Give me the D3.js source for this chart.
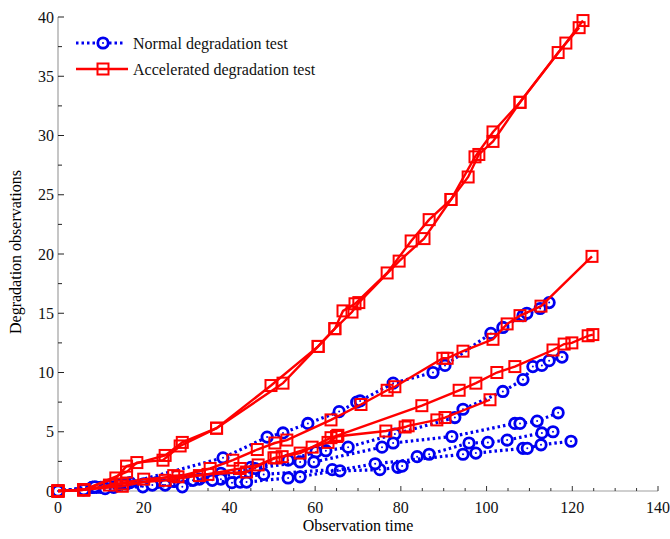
<!DOCTYPE html>
<html>
<head>
<meta charset="utf-8">
<script src="https://cdn.jsdelivr.net/npm/d3@7"></script>
<style>
  body { margin: 0; background: #fff; }
  text { font-family: "Liberation Serif", "Times New Roman", serif; }
</style>
</head>
<body>
<div id="chart"></div>
<script>
// Normal degradation test (blue, dotted, circles)
var normal1 = [[0,0],[8,0.3],[12,0.4],[16.8,0.7],[38.5,2.8],[48.8,4.55],[52.5,4.9],[58.3,5.7],[65.6,6.7],[69.7,7.5],[70.5,7.6],[78.2,9.1],[87.5,10.0],[90.3,10.6],[101,13.3],[103.8,13.8],[108.5,14.8],[109.4,15.0],[112.5,15.4],[114.6,15.9]];
var normal2 = [[0,0],[8,0.3],[14,0.5],[20,0.6],[27,0.8],[33,1.0],[38,1.5],[45,2.0],[53.7,2.6],[60.2,3.3],[62.5,3.4],[67.7,3.7],[78.6,4.8],[92.6,6.2],[94.5,6.9],[103.8,8.4],[108.5,9.4],[110.8,10.5],[112.9,10.6],[114.6,11.0],[117.6,11.3]];
var normal3 = [[0,0],[6,0.1],[10,0.3],[16,0.6],[23,0.7],[29,0.9],[37,1.1],[46,1.9],[56.5,2.45],[59.7,2.45],[75.6,3.7],[78.2,4.05],[91.9,4.6],[106.6,5.7],[107.8,5.7],[111.8,5.9],[116.7,6.6]];
var normal4 = [[0,0],[9,0.3],[13,0.3],[19.8,0.35],[25,0.5],[31.5,0.9],[38,1.0],[48,1.4],[64,1.8],[65.8,1.7],[75.1,1.8],[79.3,2.0],[80.3,2.1],[83.8,2.9],[86.6,3.1],[95.9,4.05],[100.3,4.1],[104.8,4.3],[112.9,4.9],[115.5,5.0]];
var normal5 = [[0,0],[8.6,0.35],[11,0.2],[22,0.5],[29,0.35],[36,0.9],[40.6,0.7],[42.5,0.75],[44,0.75],[53.7,1.1],[56.5,1.2],[74,2.3],[94.5,3.1],[97.5,3.2],[108.5,3.6],[109.5,3.6],[112.7,3.9],[119.7,4.2]];

// Accelerated degradation test (red, solid, squares)
var accel1 = [[0,0],[6,0.1],[13.5,1.1],[16,2.1],[25,3.0],[29,4.1],[37,5.3],[49.7,8.9],[60.7,12.2],[64.6,13.7],[66.5,15.2],[69.3,15.8],[76.8,18.4],[82.4,21.1],[86.6,22.9],[91.7,24.6],[97.3,28.2],[101.5,30.3],[107.8,32.8],[118.5,37.8],[122.5,39.7]];
var accel2 = [[0,0],[6,0.1],[16,1.6],[18.4,2.4],[24.5,2.6],[28.5,3.8],[37,5.3],[52.5,9.1],[60.7,12.2],[64.6,13.7],[68.6,15.1],[70.2,15.9],[79.6,19.4],[85.4,21.3],[91.7,24.6],[95.7,26.5],[98.2,28.4],[101.5,29.5],[107.8,32.8],[116.7,37.0],[121.6,39.1]];
var accel3 = [[0,0],[6,0.1],[12,0.5],[20,1.0],[28,1.2],[35.5,1.9],[40.8,2.6],[46.5,3.5],[50.6,4.05],[53.4,4.3],[63.7,6.0],[70.7,7.3],[76.8,8.5],[78.6,8.8],[89.8,11.2],[90.8,11.2],[94.5,11.8],[101.5,12.8],[104.8,14.1],[107.8,14.8],[112.7,15.6],[124.6,19.8]];
var accel4 = [[0,0],[6,0.1],[15,0.6],[25,0.9],[33,1.3],[42.5,1.9],[46.7,2.2],[50.9,2.8],[56.5,3.2],[59.3,3.7],[63.7,4.5],[65.3,4.7],[84.9,7.2],[93.6,8.5],[97.5,9.1],[102.4,10.0],[106.6,10.5],[115.5,11.9],[118.1,12.4],[119.9,12.5],[123.7,13.1],[124.8,13.2]];
var accel5 = [[0,0],[6,0.1],[15,0.4],[27,1.3],[35,1.4],[44,1.6],[50.4,2.8],[52.3,2.9],[63,4.1],[65,4.6],[76.5,5.06],[81,5.4],[81.7,5.5],[88.4,6.0],[90.3,6.2],[100.8,7.7]];

var normalSeries = [normal1, normal2, normal3, normal4, normal5];
var accelSeries = [accel1, accel2, accel3, accel4, accel5];
var legendLabels = ['Normal degradation test', 'Accelerated degradation test'];

var chart_width = 670;
var chart_height = 539;
var svg = d3.select('#chart')
    .append('svg')
    .attr('width', chart_width)
    .attr('height', chart_height);

var x_scale = d3.scaleLinear().domain([0, 140]).range([58, 658]);
var y_scale = d3.scaleLinear().domain([0, 40]).range([491, 17]);

var blue = '#0000f0';
var red = '#ff0000';

// Axes
var xAxis = svg.append('g').attr('transform', 'translate(0,491)');
xAxis.append('line')
    .attr('x1', 58).attr('x2', 658)
    .attr('stroke', '#a0a0a0').attr('stroke-width', 1.2);
xAxis.selectAll('.minor')
    .data(d3.range(5, 141, 5))
    .enter().append('line')
    .attr('x1', function (d) { return x_scale(d); })
    .attr('x2', function (d) { return x_scale(d); })
    .attr('y1', 0)
    .attr('y2', function (d) { return d % 20 === 0 ? -5 : -3; })
    .attr('stroke', '#333').attr('stroke-width', 1);
xAxis.selectAll('.lab')
    .data(d3.range(0, 141, 20))
    .enter().append('text')
    .attr('x', function (d) { return x_scale(d); })
    .attr('y', 22)
    .attr('text-anchor', 'middle')
    .attr('font-size', 16)
    .attr('fill', '#111')
    .text(function (d) { return d; });

var yAxis = svg.append('g');
yAxis.append('line')
    .attr('x1', 58).attr('x2', 58)
    .attr('y1', y_scale(0)).attr('y2', y_scale(40))
    .attr('stroke', '#a0a0a0').attr('stroke-width', 1.2);
yAxis.selectAll('.tick')
    .data(d3.range(0, 40.1, 2.5))
    .enter().append('line')
    .attr('x1', 58)
    .attr('x2', function (d) { return d % 5 === 0 ? 64 : 62; })
    .attr('y1', function (d) { return y_scale(d); })
    .attr('y2', function (d) { return y_scale(d); })
    .attr('stroke', '#222').attr('stroke-width', 1);
yAxis.selectAll('.lab')
    .data(d3.range(0, 41, 5))
    .enter().append('text')
    .attr('x', 54)
    .attr('y', function (d) { return y_scale(d) + 5.5; })
    .attr('text-anchor', 'end')
    .attr('font-size', 16)
    .attr('fill', '#111')
    .text(function (d) { return d; });

svg.append('text')
    .attr('x', 358).attr('y', 531)
    .attr('text-anchor', 'middle')
    .attr('font-size', 16)
    .text('Observation time');
svg.append('text')
    .attr('transform', 'translate(21,252) rotate(-90)')
    .attr('text-anchor', 'middle')
    .attr('font-size', 16)
    .text('Degradation observations');

var line = d3.line()
    .x(function (d) { return x_scale(d[0]); })
    .y(function (d) { return y_scale(d[1]); });

function drawCircle(g, cx, cy) {
    g.append('circle')
        .attr('cx', cx).attr('cy', cy).attr('r', 5.2)
        .attr('fill', '#fff').attr('stroke', blue).attr('stroke-width', 2.8);
    g.append('circle')
        .attr('cx', cx).attr('cy', cy).attr('r', 1)
        .attr('fill', blue);
}
function drawSquare(g, cx, cy) {
    g.append('rect')
        .attr('x', cx - 5.5).attr('y', cy - 5.5)
        .attr('width', 11).attr('height', 11)
        .attr('fill', 'none').attr('stroke', red).attr('stroke-width', 2);
}

// Normal series
normalSeries.forEach(function (s) {
    var g = svg.append('g');
    g.append('path')
        .attr('d', line(s))
        .attr('fill', 'none')
        .attr('stroke', blue)
        .attr('stroke-width', 3.2)
        .attr('stroke-dasharray', '2.5,3');
    s.forEach(function (p) { drawCircle(g, x_scale(p[0]), y_scale(p[1])); });
});

// Accelerated series
accelSeries.forEach(function (s) {
    var g = svg.append('g');
    g.append('path')
        .attr('d', line(s))
        .attr('fill', 'none')
        .attr('stroke', red)
        .attr('stroke-width', 2.4);
    s.forEach(function (p) { drawSquare(g, x_scale(p[0]), y_scale(p[1])); });
});

// Legend
var lg = svg.append('g');
lg.append('line')
    .attr('x1', 76).attr('x2', 125).attr('y1', 43).attr('y2', 43)
    .attr('stroke', blue).attr('stroke-width', 3.2).attr('stroke-dasharray', '2.5,3');
drawCircle(lg, 103, 43);
lg.append('line')
    .attr('x1', 76).attr('x2', 128).attr('y1', 69).attr('y2', 69)
    .attr('stroke', red).attr('stroke-width', 2.4);
drawSquare(lg, 103, 69);
lg.selectAll('.lt')
    .data(legendLabels)
    .enter().append('text')
    .attr('x', 133)
    .attr('y', function (d, i) { return 49 + i * 26; })
    .attr('font-size', 16)
    .attr('fill', '#111')
    .text(function (d) { return d; });
</script>
</body>
</html>
